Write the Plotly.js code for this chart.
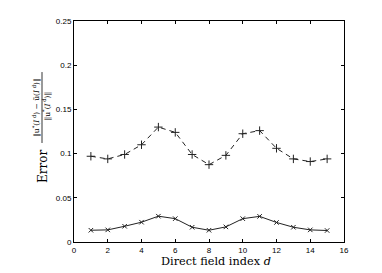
<!DOCTYPE html>
<html><head><meta charset="utf-8">
<script src="https://cdn.plot.ly/plotly-3.0.1.min.js"></script>
<style>html,body{margin:0;padding:0;background:#fff;}</style>
</head><body><div id="chart" style="width:382px;height:273px;"></div>
<script>
const fieldIndex = [1,2,3,4,5,6,7,8,9,10,11,12,13,14,15];
const errorUpper = [0.097,0.094,0.099,0.110,0.130,0.124,0.099,0.0875,0.098,0.1225,0.126,0.106,0.094,0.091,0.094];
const errorLower = [0.0133,0.0137,0.0178,0.0224,0.0292,0.0264,0.0167,0.0133,0.0171,0.0264,0.029,0.0221,0.0167,0.0137,0.013];
const xTicks = [0,2,4,6,8,10,12,14,16];
const yTicks = [0,0.05,0.1,0.15,0.2,0.25];
const yTickLabels = ['0','0.05','0.1','0.15','0.2','0.25'];

const lineColor = '#222';
const traces = [
  {x: fieldIndex, y: errorUpper, mode: 'lines+markers', type: 'scatter',
   line: {color: lineColor, width: 1, dash: '5px,4px'},
   marker: {symbol: 'cross-thin-open', size: 6, line: {color: lineColor, width: 1}}},
  {x: fieldIndex, y: errorLower, mode: 'lines+markers', type: 'scatter',
   line: {color: lineColor, width: 1},
   marker: {symbol: 'x-thin-open', size: 4.5, line: {color: lineColor, width: 1}}}
];
const serif = '"DejaVu Serif", "Liberation Serif", serif';
const sans = '"Liberation Sans", Arial, sans-serif';
const layout = {
  width: 382, height: 273,
  margin: {l: 74, r: 38, t: 21, b: 31},
  showlegend: false,
  paper_bgcolor: '#fff', plot_bgcolor: '#fff',
  xaxis: {range: [0,16], tickvals: xTicks, ticktext: xTicks.map(String),
    ticks: 'inside', ticklen: 3, tickcolor: '#000', showgrid: false, zeroline: false,
    showline: true, linecolor: '#000', linewidth: 1, mirror: 'ticks',
    tickfont: {family: sans, size: 8, color: '#000'}},
  yaxis: {range: [0,0.25], tickvals: yTicks, ticktext: yTickLabels,
    ticks: 'inside', ticklen: 3, tickcolor: '#000', showgrid: false, zeroline: false,
    showline: true, linecolor: '#000', linewidth: 1, mirror: 'ticks',
    tickfont: {family: sans, size: 8, color: '#000'}},
  annotations: [
    {text: 'Direct field index <i>d</i>', xref: 'paper', yref: 'paper', x: 0.526, y: -0.088, xanchor: 'center', yanchor: 'middle',
     borderpad: 0, showarrow: false, font: {family: serif, size: 11.3, color: '#000'}},
    {text: 'Error', xref: 'paper', yref: 'paper', x: 0, y: 0.339, xshift: -31, xanchor: 'center', yanchor: 'middle',
     textangle: -90, showarrow: false, font: {family: serif, size: 12, color: '#000'}},
    {text: '‖u<sup>*</sup>(<i>I</i><sup> d</sup>) − ũ(<i>I</i><sup> d</sup>)‖', xref: 'paper', yref: 'paper', x: 0, y: 0.609, xshift: -37.5,
     xanchor: 'center', yanchor: 'middle', textangle: -90, showarrow: false, font: {family: serif, size: 7.5, color: '#000'}},
    {text: '‖u<sup>*</sup>(<i>I</i><sup> d</sup>)‖', xref: 'paper', yref: 'paper', x: 0, y: 0.615, xshift: -27.5,
     xanchor: 'center', yanchor: 'middle', textangle: -90, showarrow: false, font: {family: serif, size: 7.5, color: '#000'}}
  ],
  shapes: [
    {type: 'line', xref: 'paper', yref: 'paper', x0: -0.1185, x1: -0.1185, y0: 0.448, y1: 0.769, line: {color: '#000', width: 0.8}}
  ]
};
Plotly.newPlot('chart', traces, layout, {displayModeBar: false, staticPlot: true});
</script></body></html>
